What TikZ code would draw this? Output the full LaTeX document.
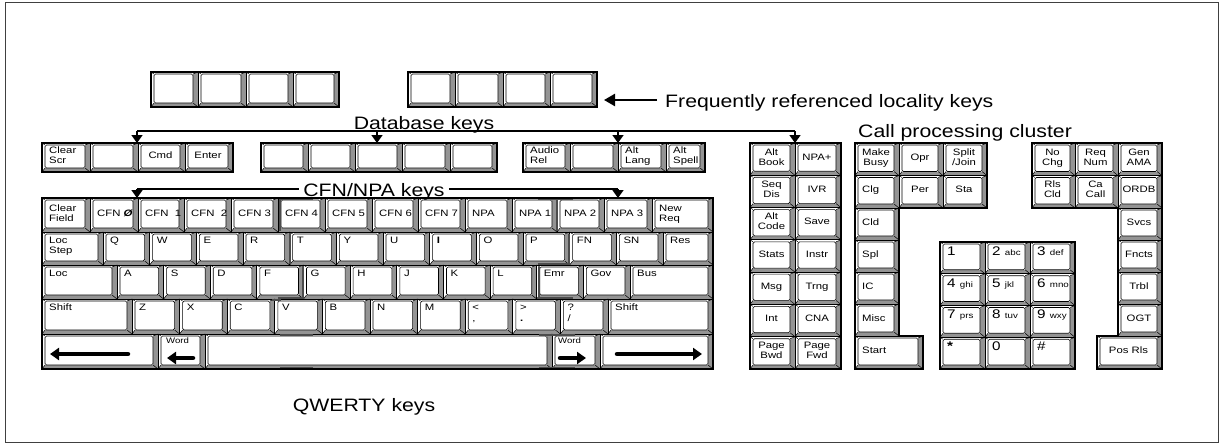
\documentclass[tikz,border=0pt]{standalone}
\usepackage{fontspec}
\setmainfont{Liberation Sans}
\usetikzlibrary{arrows.meta}
\newcommand\sx[1]{\scalebox{1.22}[1]{\begin{tabular}{@{}l@{}}#1\end{tabular}}}
\newcommand\sxc[1]{\scalebox{1.22}[1]{\begin{tabular}{@{}c@{}}#1\end{tabular}}}
\newcommand\tx[1]{\scalebox{1.18}[1]{#1}}
\newcommand\nf{\fontsize{12.5}{12.5}\selectfont}
\newcommand\lf{\fontsize{8}{8}\selectfont}
\tikzset{
  kshade/.style={fill=black!42},
  kinner/.style={draw=black, line width=0.6pt, fill=white, rounded corners=1.5pt},
  kdiag/.style={line width=0.5pt},
  kbox/.style={draw=black, line width=0.9pt, inner sep=0pt, outer sep=0pt},
  klab/.style={font=\fontsize{9.3}{10}\selectfont, inner sep=0pt},
  grp/.style={draw=black, line width=1.6pt},
  title/.style={font=\fontsize{18}{18}\selectfont, inner sep=0pt},
  conn/.style={line width=1.6pt},
  connarrow/.style={line width=1.6pt, -{Triangle[width=11pt,length=8pt]}},
  bigarrow/.style={line width=2.4pt, -{Triangle[width=12pt,length=11pt]}},
  fat/.style={line width=4.5pt, line cap=round, -{Triangle[width=12pt,length=9pt]}},
  ghost/.style={draw=black!70, line width=1.8pt},
  frame/.style={draw=black!75, line width=1pt},
}
\newcommand\Kbase[5]{%
  \fill[white] (#2,#3) rectangle (#4,#5);
  \fill[kshade] (#2,#5) -- (#4,#5) -- (#4,#3) -- ({#4-5},{#3+2}) -- ({#4-5},{#5-4}) -- ({#2+3},{#5-4}) -- cycle;
  \draw[kinner] ({#2+3},{#3+2}) rectangle ({#4-5},{#5-4});
  \draw[kdiag] (#2,#3) -- ({#2+3},{#3+2}) (#4,#3) -- ({#4-5},{#3+2}) (#2,#5) -- ({#2+3},{#5-4}) (#4,#5) -- ({#4-5},{#5-4});
  \node[kbox, minimum width={#4-#2}, minimum height={#5-#3}] (#1) at ({(#2+#4)/2},{(#3+#5)/2}) {};
}
\newcommand\Kt[6]{\Kbase{#1}{#2}{#3}{#4}{#5}\node[klab,anchor=north west] (#1t) at ({#2+7},{#3+4.5}) {\sx{#6}};}
\newcommand\Kc[6]{\Kbase{#1}{#2}{#3}{#4}{#5}\node[klab,anchor=west] (#1t) at ({#2+7},{(#3+#5)/2-1}) {\sx{#6}};}
\newcommand\Km[6]{\Kbase{#1}{#2}{#3}{#4}{#5}\node[klab] (#1t) at ({(#2+#4)/2-1},{(#3+#5)/2-1}) {\sxc{#6}};}
\begin{document}
\begin{tikzpicture}[x=1pt,y=-1pt]
\useasboundingbox (0,0) rectangle (1220,444);
\draw[frame] (5,3) rectangle (1218,442);

% locality keys
\Kbase{la1}{151}{72}{198}{107}\Kbase{la2}{198}{72}{246}{107}\Kbase{la3}{246}{72}{293}{107}\Kbase{la4}{293}{72}{339}{107}
\Kbase{lb1}{408}{72}{455}{107}\Kbase{lb2}{455}{72}{503}{107}\Kbase{lb3}{503}{72}{550}{107}\Kbase{lb4}{550}{72}{597}{107}
\draw[grp] (151,72) rectangle (339,107);
\draw[grp] (408,72) rectangle (597,107);
\node[title, anchor=base west] (frt) at (665,107) {\tx{Frequently referenced locality keys}};
\coordinate (frs) at (657,100);
\coordinate (frtip) at (604,100);
\draw[bigarrow] (frs) -- (frtip);

% database row
\Kc{d1}{42}{143}{90}{172}{Clear\\Scr}
\Kbase{d2}{90}{143}{138}{172}
\Km{d3}{138}{143}{185}{172}{Cmd}
\Km{d4}{185}{143}{233}{172}{Enter}
\Kbase{e1}{261}{143}{308}{172}\Kbase{e2}{308}{143}{355}{172}\Kbase{e3}{355}{143}{402}{172}\Kbase{e4}{402}{143}{450}{172}\Kbase{e5}{450}{143}{497}{172}
\Kc{f1}{523}{143}{570}{172}{Audio\\Rel}
\Kbase{f2}{570}{143}{618}{172}
\Kc{f3}{618}{143}{666}{172}{Alt\\Lang}
\Kc{f4}{666}{143}{705}{172}{Alt\\Spell}
\draw[grp] (42,143) rectangle (233,172);
\draw[grp] (261,143) rectangle (497,172);
\draw[grp] (523,143) rectangle (705,172);

% CFN row
\Kc{c0}{42}{198}{90}{232}{Clear\\Field}
\Kc{c1}{90}{198}{138}{232}{CFN \textit{\textbf{Ø}}}
\Kc{c2}{138}{198}{184}{232}{CFN\ \ 1}
\Kc{c3}{184}{198}{231}{232}{CFN\ \ 2}
\Kc{c4}{231}{198}{278}{232}{CFN 3}
\Kc{c5}{278}{198}{325}{232}{CFN 4}
\Kc{c6}{325}{198}{372}{232}{CFN 5}
\Kc{c7}{372}{198}{418}{232}{CFN 6}
\Kc{c8}{418}{198}{465}{232}{CFN 7}
\Kc{c9}{465}{198}{512}{232}{NPA}
\Kc{c10}{512}{198}{557}{232}{NPA 1}
\Kc{c11}{557}{198}{604}{232}{NPA 2}
\Kc{c12}{604}{198}{652}{232}{NPA 3}
\Kc{c13}{652}{198}{713}{232}{New\\Req}

% Q row
\Kt{q0}{42}{232}{103}{265}{Loc\\Step}
\foreach \l [count=\i from 1] in {Q,W,E,R,T,Y,U,\textbf{I},O,P,FN,SN}{
  \pgfmathsetmacro\xa{103+46.667*(\i-1)}
  \pgfmathsetmacro\xb{103+46.667*\i}
  \Kt{q\i}{\xa}{232}{\xb}{265}{\l}
}
\Kt{q13}{663}{232}{713}{265}{Res}

% A row
\Kt{a0}{42}{265}{117}{299}{Loc}
\foreach \l [count=\i from 1] in {A,S,D,F,G,H,J,K,L,Emr,Gov}{
  \pgfmathsetmacro\xa{117+46.636*(\i-1)}
  \pgfmathsetmacro\xb{117+46.636*\i}
  \Kt{a\i}{\xa}{265}{\xb}{299}{\l}
}
\Kt{a12}{630}{265}{713}{299}{Bus}

% Z row
\Kt{z0}{42}{299}{132}{334}{Shift}
\foreach \l [count=\i from 1] in {Z,X,C,V,B,N,M,{<\\[1pt],},{>\\[1pt]\textbf{.}},{?\\[1pt]/}}{
  \pgfmathsetmacro\xa{132+47.6*(\i-1)}
  \pgfmathsetmacro\xb{132+47.6*\i}
  \Kt{z\i}{\xa}{299}{\xb}{334}{\l}
}
\Kt{z11}{608}{299}{713}{334}{Shift}

% bottom row
\Kbase{b0}{42}{334}{158}{369}
\Kbase{b1}{158}{334}{205}{369}
\Kbase{b2}{205}{334}{552}{369}
\Kbase{b3}{552}{334}{600}{369}
\Kbase{b4}{600}{334}{713}{369}
\draw[fat] (128,354) -- (50,354);
\node[klab, anchor=north west, font=\fontsize{8}{8}\selectfont] (b1t) at (166,337) {\scalebox{1.2}[1]{Word}};
\draw[fat] (193,358) -- (167,358);
\node[klab, anchor=north west, font=\fontsize{8}{8}\selectfont] (b3t) at (558,337) {\scalebox{1.2}[1]{Word}};
\draw[fat] (560,358) -- (586,358);
\draw[fat] (617,354) -- (702,354);

% faint dark traces across the QWERTY block
\draw[ghost] (280,199) -- (313,199) (280,199) -- (280,231);
\draw[ghost] (290,233) -- (290,264);
\draw[ghost] (303,266) -- (303,298) -- (278,298);
\draw[ghost] (272,300) -- (281,300);
\draw[ghost] (280,335) -- (313,335) (280,368) -- (313,368);
\draw[ghost] (538,199) -- (573,199) (557,199) -- (557,231);
\draw[ghost] (538,264) -- (569,264) -- (569,234);
\draw[ghost] (539,267) -- (539,298) -- (573,298);
\draw[ghost] (539,335) -- (575,335) (539,368) -- (575,368);
\draw[grp] (42,198) rectangle (713,369);

% middle column
\foreach \a/\b [count=\i from 0] in {{Alt\\Book}/{NPA+},{Seq\\Dis}/{IVR},{Alt\\Code}/{Save},{Stats}/{Instr},{Msg}/{Trng},{Int}/{CNA},{Page\\Bwd}/{Page\\Fwd}}{
  \pgfmathsetmacro\ya{143+32.286*\i}
  \pgfmathsetmacro\yb{143+32.286*(\i+1)}
  \Km{mL\i}{750}{\ya}{795}{\yb}{\a}
  \Km{mR\i}{795}{\ya}{841}{\yb}{\b}
}
\draw[grp] (750,143) rectangle (841,369);

% database connector
\node[title, anchor=base] (dbt) at (424,129) {\tx{Database keys}};
\coordinate (dbL) at (137,131);
\coordinate (db2) at (377,131);
\coordinate (db3) at (618,131);
\coordinate (dbR) at (795,131);
\draw[conn] (dbL) -- (dbR);
\draw[connarrow] (dbL) -- (dbL |- d2.north);
\draw[connarrow] (db2) -- (db2 |- e3.north);
\draw[connarrow] (db3) -- (db3 |- f2.north);
\draw[connarrow] (dbR) -- (dbR |- mL0.north);

% CFN/NPA connector
\node[title, anchor=base, inner xsep=4pt] (cfnt) at (374,196) {\tx{CFN/NPA keys}};
\coordinate (cL) at (137,189);
\coordinate (cR) at (618,189);
\draw[conn] (cL) -- (cfnt.west |- cL);
\draw[conn] (cfnt.east |- cR) -- (cR);
\draw[connarrow] (cL) -- (cL |- c1.north);
\draw[connarrow] (cR) -- (cR |- c12.north);

% call processing cluster
\node[title, anchor=base west] (cpt) at (858,137) {\tx{Call processing cluster}};
\Km{p1}{855}{143}{899}{175.5}{Make\\Busy}
\Km{p2}{899}{143}{943}{175.5}{Opr}
\Km{p3}{943}{143}{987}{175.5}{Split\\/Join}
\Kc{p4}{855}{175.5}{899}{208}{Clg}
\Km{p5}{899}{175.5}{943}{208}{Per}
\Km{p6}{943}{175.5}{987}{208}{Sta}
\Kc{p7}{855}{208}{899}{240}{Cld}
\Kc{p8}{855}{240}{899}{272}{Spl}
\Kc{p9}{855}{272}{899}{304}{IC}
\Kc{p10}{855}{304}{899}{336}{Misc}
\Kc{p11}{855}{336}{923}{369}{Start}
\draw[grp] (855,143) -- (987,143) -- (987,208) -- (899,208) -- (899,336) -- (923,336) -- (923,369) -- (855,369) -- cycle;

% numeric pad
\Kt{n1}{940}{242}{985}{273.75}{\nf 1}
\Kt{n2}{985}{242}{1030}{273.75}{\nf 2 \lf abc}
\Kt{n3}{1030}{242}{1075}{273.75}{\nf 3 \lf def}
\Kt{n4}{940}{273.75}{985}{305.5}{\nf 4 \lf ghi}
\Kt{n5}{985}{273.75}{1030}{305.5}{\nf 5 \lf jkl}
\Kt{n6}{1030}{273.75}{1075}{305.5}{\nf 6 \lf mno}
\Kt{n7}{940}{305.5}{985}{337.25}{\nf 7 \lf prs}
\Kt{n8}{985}{305.5}{1030}{337.25}{\nf 8 \lf tuv}
\Kt{n9}{1030}{305.5}{1075}{337.25}{\nf 9 \lf wxy}
\Kt{n10}{940}{337.25}{985}{369}{\nf\textbf{*}}
\Kt{n11}{985}{337.25}{1030}{369}{\nf 0}
\Kt{n12}{1030}{337.25}{1075}{369}{\nf\#}
\draw[grp] (940,242) rectangle (1075,369);

% right cluster
\Km{r1}{1032}{143}{1075}{175.5}{No\\Chg}
\Km{r2}{1075}{143}{1118}{175.5}{Req\\Num}
\Km{r3}{1118}{143}{1162}{175.5}{Gen\\AMA}
\Km{r4}{1032}{175.5}{1075}{208}{Rls\\Cld}
\Km{r5}{1075}{175.5}{1118}{208}{Ca\\Call}
\Km{r6}{1118}{175.5}{1162}{208}{ORDB}
\Km{r7}{1118}{208}{1162}{240}{Svcs}
\Km{r8}{1118}{240}{1162}{272}{Fncts}
\Km{r9}{1118}{272}{1162}{304}{Trbl}
\Km{r10}{1118}{304}{1162}{336}{OGT}
\Km{r11}{1097}{336}{1162}{369}{Pos Rls}
\draw[grp] (1032,143) -- (1162,143) -- (1162,369) -- (1097,369) -- (1097,336) -- (1118,336) -- (1118,208) -- (1032,208) -- cycle;

\node[title, anchor=base] (qwt) at (364,411) {\tx{QWERTY keys}};
\end{tikzpicture}
\end{document}
